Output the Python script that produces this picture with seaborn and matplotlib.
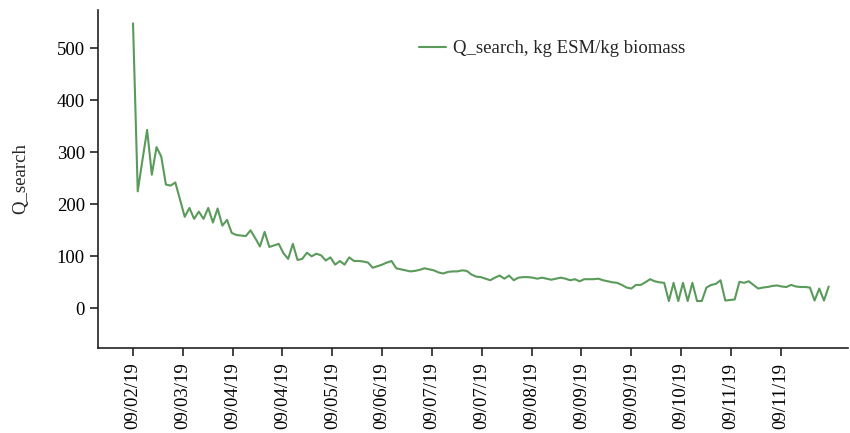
import numpy as np
import pandas as pd
import matplotlib
matplotlib.use("Agg")
import matplotlib.pyplot as plt
import seaborn as sns

# Q_search series, one value per sample
q_search = [
    548, 225, 285, 343, 257, 310, 292, 238, 236, 242,
    209, 176, 193, 172, 186, 172, 193, 165, 192, 159,
    170, 145, 141, 140, 139, 150, 135, 119, 147, 118,
    121, 124, 106, 95, 124, 93, 95, 107, 100, 105,
    102, 92, 98, 84, 91, 84, 98, 91, 91, 90,
    88, 78, 81, 84, 88, 91, 77, 75, 73, 71,
    72, 74, 77, 75, 73, 69, 67, 70, 71, 71,
    73, 72, 65, 61, 60, 57, 54, 59, 63, 57,
    63, 54, 59, 60, 60, 59, 57, 59, 57, 55,
    57, 59, 57, 54, 56, 52, 56, 56, 56, 57,
    54, 52, 50, 49, 45, 40, 38, 45, 45, 50,
    56, 52, 50, 49, 14, 49, 14, 49, 14, 49,
    14, 14, 40, 45, 47, 54, 15, 16, 17, 51,
    49, 52, 45, 38, 40, 41, 43, 44, 42, 41,
    45, 42, 41, 41, 40, 15, 38, 15, 42,
]

tick_labels = [
    "09/02/19", "09/03/19", "09/04/19", "09/04/19", "09/05/19",
    "09/06/19", "09/07/19", "09/07/19", "09/08/19", "09/09/19",
    "09/09/19", "09/10/19", "09/11/19", "09/11/19",
]
y_ticks = [0, 100, 200, 300, 400, 500]

series_name = "Q_search, kg ESM/kg biomass"
df = pd.DataFrame({"sample": np.arange(len(q_search)), series_name: q_search})

sns.set_style("ticks")
plt.rcParams["font.family"] = ["Liberation Serif", "DejaVu Serif"]

fig = plt.figure(figsize=(8.5, 4.33), dpi=100)
ax = fig.add_axes([0.1153, 0.1963, 0.8823, 0.7817])

sns.lineplot(data=df, x="sample", y=series_name, ax=ax,
             color="#5a9a5a", linewidth=1.5, label=series_name)

fs = 13.5
tick_step = 10.6
ax.set_xticks(np.arange(len(tick_labels)) * tick_step)
ax.set_xticklabels(tick_labels, rotation=90, fontsize=fs)
ax.set_yticks(y_ticks)
ax.set_yticklabels([str(v) for v in y_ticks], fontsize=fs)
ax.set_xlim(-7.45, 152.1)
ax.set_ylim(-76.3, 574.6)

ax.set_xlabel("")
ax.set_ylabel("Q_search", fontsize=fs, labelpad=20)

for side in ("top", "right"):
    ax.spines[side].set_visible(False)
for side in ("left", "bottom"):
    ax.spines[side].set_linewidth(1.2)
    ax.spines[side].set_color("#222222")
ax.tick_params(axis="both", direction="out", length=5.5, width=1.2,
               color="#222222", labelcolor="black", pad=4)
ax.tick_params(axis="x", pad=5)

leg = ax.legend(loc="upper left", bbox_to_anchor=(0.405, 0.96), frameon=False,
                fontsize=fs, handlelength=1.45, handletextpad=0.4)

fig.savefig("out.png", dpi=100)
